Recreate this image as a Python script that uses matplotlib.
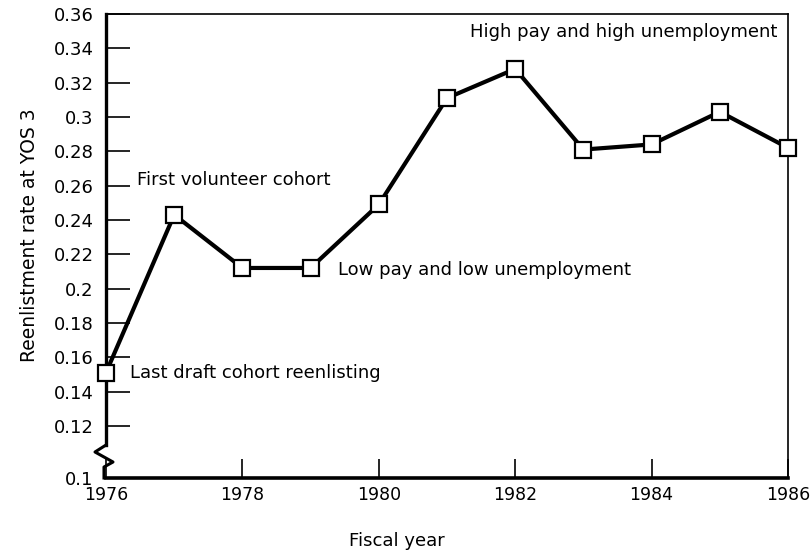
import matplotlib

matplotlib.use("Agg")
import matplotlib.pyplot as plt

# reenlistment rate at YOS 3 by fiscal year
years = [1976, 1977, 1978, 1979, 1980, 1981, 1982, 1983, 1984, 1985, 1986]
rates = [0.151, 0.243, 0.212, 0.212, 0.249, 0.311, 0.328, 0.281, 0.284, 0.303, 0.282]

xticks = [1976, 1978, 1980, 1982, 1984, 1986]
yticks = [0.12, 0.14, 0.16, 0.18, 0.2, 0.22, 0.24, 0.26, 0.28, 0.3, 0.32, 0.34, 0.36]
ytick_labels = ["0.12", "0.14", "0.16", "0.18", "0.2", "0.22", "0.24",
                "0.26", "0.28", "0.3", "0.32", "0.34", "0.36"]
# axis is broken below 0.12; the bottom edge is labelled 0.1
y_bottom = 0.0896
y_break = 0.1089

notes = [
    ("Last draft cohort reenlisting", 1976.35, 0.151, "left"),
    ("First volunteer cohort", 1976.45, 0.263, "left"),
    ("Low pay and low unemployment", 1979.4, 0.211, "left"),
    ("High pay and high unemployment", 1985.85, 0.3495, "right"),
]

plt.rcParams["font.family"] = ["DejaVu Sans"]

fig = plt.figure(figsize=(8.12, 5.58), dpi=100)
ax = fig.add_axes([106 / 812, 1 - 478 / 558, 682 / 812, 464 / 558])

ax.plot(years, rates, color="black", lw=3.0, marker="s", ms=11.5,
        mfc="white", mec="black", mew=1.6, zorder=3, clip_on=False)

for txt, x, y, ha in notes:
    ax.text(x, y, txt, ha=ha, va="center", fontsize=13)

ax.set_xlim(1976, 1986)
ax.set_ylim(y_bottom, 0.36)
ax.set_xticks(xticks)
ax.set_yticks([y_bottom] + yticks)
ax.set_yticklabels(["0.1"] + ytick_labels)
ax.tick_params(axis="y", direction="in", length=17, width=1.2, pad=9, labelsize=13)
ax.tick_params(axis="x", direction="in", length=14, width=1.2, pad=6, labelsize=12.5)

for side in ("top", "right"):
    ax.spines[side].set_linewidth(1.2)
ax.spines["bottom"].set_linewidth(2.6)
ax.spines["left"].set_linewidth(2.4)
ax.spines["left"].set_bounds(y_break, 0.36)

# break mark on the y axis
zx = [0, -11 / 682, 7 / 682, -2 / 682, -2 / 682]
zy = [33 / 464, 26 / 464, 16 / 464, 11 / 464, 0]
ax.plot(zx, zy, color="black", lw=2.2, transform=ax.transAxes, clip_on=False)

fig.text(30 / 812, 1 - 235 / 558, "Reenlistment rate at YOS 3", rotation=90,
         ha="center", va="center", fontsize=13.5)
fig.text(397 / 812, 1 - 541 / 558, "Fiscal year", ha="center", va="center", fontsize=13)

fig.savefig("out.png", dpi=100)
